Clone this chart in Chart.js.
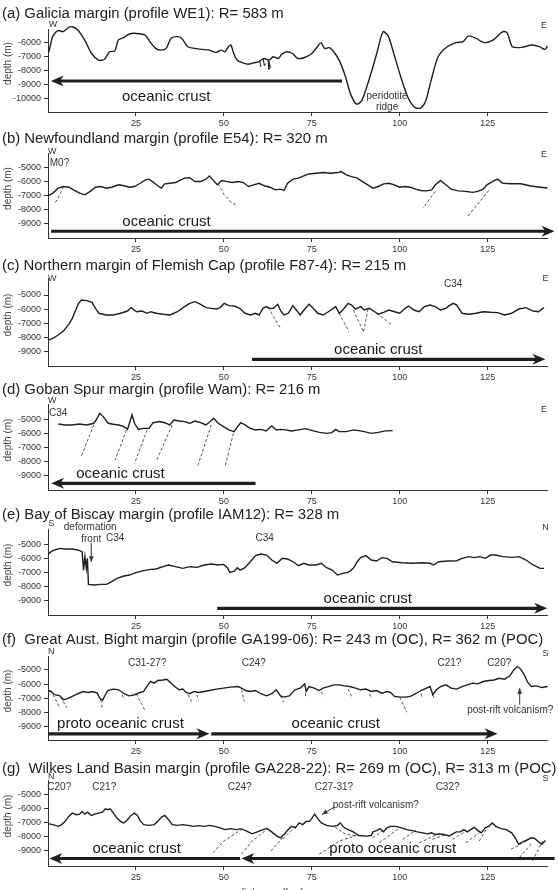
<!DOCTYPE html>
<html>
<head>
<meta charset="utf-8">
<script src="https://cdn.jsdelivr.net/npm/chart.js@4.4.1/dist/chart.umd.min.js"></script>
<style>
  html, body { margin: 0; padding: 0; background: #fff; }
  body { width: 558px; height: 890px; position: relative; overflow: hidden; }
  canvas { position: absolute; left: 0; }
</style>
</head>
<body>
<canvas id="pa"></canvas>
<canvas id="pb"></canvas>
<canvas id="pc"></canvas>
<canvas id="pd"></canvas>
<canvas id="pe"></canvas>
<canvas id="pf"></canvas>
<canvas id="pg"></canvas>
<script>
// ---- data: [distance km, depth m] ----
const kmTicks = [25, 50, 75, 100, 125];
const depthTicksA = [-6000, -7000, -8000, -9000, -10000];
const depthTicks = [-5000, -6000, -7000, -8000, -9000];

const profileA = [[0.3,-6670],[1.3,-5600],[2.8,-5170],[4.3,-5240],[5.9,-4950],[6.9,-4900],[8.4,-5120],[10.4,-5830],[12.4,-6790],[14.4,-7260],[16,-7210],[17.5,-6670],[19,-6600],[20,-5830],[21.5,-5670],[23,-5430],[24.5,-5360],[26,-5400],[27.6,-5480],[29,-5950],[30.6,-6430],[32,-6550],[33.6,-6430],[35,-5710],[36.7,-5600],[38,-5710],[39.7,-6310],[41.7,-6430],[43.7,-6500],[45.8,-6550],[47.8,-6710],[49.3,-6550],[50.3,-6670],[51.3,-6310],[52,-6190],[52.8,-6790],[53.8,-7260],[55.4,-7450],[56.9,-7550],[58.4,-7450],[59.9,-7380],[61.4,-7140],[62.9,-7260],[64,-7020],[65.5,-7140],[66.5,-6830],[68,-6670],[69.5,-6790],[71,-7140],[73,-7070],[75,-6790],[76.6,-6310],[77.6,-6020],[78.6,-6430],[80,-6380],[81.6,-6790],[83,-7380],[84.6,-8450],[86,-9640],[87.7,-10360],[89.2,-10120],[91.2,-8690],[93.2,-7020],[94.7,-5600],[95.4,-5240],[96.8,-5600],[98.3,-6790],[100.3,-8450],[102.3,-9880],[104.3,-10600],[105.9,-10640],[107.4,-10120],[108.9,-8690],[110.9,-7020],[113.5,-6310],[116,-6020],[118,-5950],[119.5,-5550],[121.6,-5710],[124,-6020],[126.6,-5830],[128.6,-5360],[129.6,-5240],[130.6,-5360],[132,-6310],[134.6,-6360],[137.6,-6190],[139.7,-6310],[141.2,-6500],[142,-6260]];
const loopsA = [[[60.2,-7300],[60.5,-7750]],[[61.2,-7200],[61.5,-7650],[61.9,-7500]],[[62.6,-7300],[62.8,-7900],[63.2,-7800],[63,-7450]]];

const profileB = [[0,-7000],[1.4,-6810],[2.9,-6460],[4.4,-6340],[5.9,-6390],[7.5,-6620],[9,-6810],[10.5,-6930],[12,-6690],[13.5,-6390],[15,-6340],[16.6,-6460],[18.1,-6390],[20.1,-6220],[21.6,-6290],[23.1,-6390],[24.6,-6340],[26.2,-6110],[27.7,-5870],[28.7,-5820],[29.7,-5990],[31.2,-6290],[32.2,-6460],[33.2,-6150],[34.7,-6110],[36.3,-6060],[37.3,-5920],[38.8,-5750],[40.3,-5710],[41.8,-5990],[43.4,-5990],[44.9,-5820],[45.9,-5590],[46.9,-5870],[48.1,-6220],[49.4,-5920],[50.9,-5990],[52.4,-6060],[54,-5990],[55.5,-6060],[57,-6340],[58.5,-6220],[60,-6110],[61.5,-6290],[63.1,-6390],[64.6,-6580],[66.1,-6530],[67.1,-6620],[68.1,-6110],[69.7,-5820],[71.2,-5750],[72.7,-5590],[74.2,-5450],[76.2,-5400],[78.3,-5350],[80.3,-5400],[82.3,-5350],[83.3,-5280],[84.8,-5520],[86.3,-5640],[87.9,-5750],[89.4,-5990],[90.9,-6220],[92.4,-6460],[93.9,-6340],[95.4,-6150],[96.9,-6110],[98.5,-6220],[100,-6390],[101.5,-6340],[103,-6390],[104.5,-6530],[106,-6620],[107.6,-6650],[109.1,-6580],[110.1,-6220],[111.6,-5920],[113.1,-6220],[114.6,-6530],[116.7,-6650],[118.7,-6690],[120.7,-6760],[122.2,-6690],[123.7,-6530],[124.8,-6220],[126.3,-5990],[127.8,-5820],[129.3,-6110],[131.8,-6150],[134.4,-6150],[136.9,-6290],[139.9,-6390],[142,-6450]];
const faultsB = [[[4.4,-6340],[3.2,-7000],[1.9,-7560]],[[48.4,-6150],[50,-6900],[52,-7450],[53.9,-7700]],[[110.1,-6690],[106.6,-7870]],[[125.3,-6620],[119.2,-8500]]];

const profileC = [[0,-8180],[1.4,-8060],[2.9,-7820],[4.4,-7540],[5.9,-7070],[6.9,-6650],[7.9,-6060],[8.7,-5590],[9.5,-5350],[11,-5400],[12.5,-5520],[13.5,-5940],[14.5,-6290],[16.5,-6410],[18.6,-6410],[20.6,-6290],[22.6,-6130],[23.6,-5890],[25.2,-6180],[26.7,-6130],[28.2,-6290],[29.2,-6180],[30.7,-6290],[32.7,-6360],[34.7,-6410],[36.8,-6180],[38.8,-5820],[40.3,-5590],[41.8,-5470],[43.4,-5660],[44.9,-5890],[46.4,-5940],[47.9,-5990],[48.9,-5890],[50.1,-5590],[51.4,-5750],[52.9,-5780],[54.5,-5940],[56,-6290],[57.5,-6410],[59,-6290],[60,-6410],[61.1,-5940],[62.1,-5820],[63.1,-5940],[64.1,-5940],[65.3,-5660],[66.3,-6180],[67.1,-6410],[68.3,-6290],[69.6,-5750],[70.6,-6060],[71.7,-6410],[73,-5990],[74.2,-5660],[75.4,-5940],[76.7,-6290],[78.2,-6410],[79.7,-6180],[81.8,-5820],[82.8,-6290],[83.8,-6060],[85.3,-5590],[86.3,-5710],[87.4,-5990],[88.9,-5820],[89.9,-6060],[91.4,-5940],[92.9,-6180],[93.9,-6360],[95.4,-6220],[96.9,-6060],[98.5,-6180],[100,-6290],[101.5,-5940],[102.5,-5780],[104,-6060],[105.5,-6180],[107,-5820],[108.6,-5710],[110.1,-5820],[111.6,-6060],[113.1,-5940],[114.1,-5750],[115.2,-5590],[116.2,-5710],[117.7,-6290],[119.7,-6360],[121.7,-6290],[123.7,-6180],[125.8,-6220],[127.8,-6240],[129.8,-6410],[131.8,-6290],[133.8,-5990],[135.9,-5890],[137.9,-6130],[139.4,-6180],[141,-5890]];
const faultsC = [[[62.6,-5890],[66.1,-7350]],[[82.8,-6290],[85.6,-7590]],[[86.8,-6060],[89.7,-7590]],[[91,-5980],[89.7,-7590]],[[93.4,-6290],[97.9,-7120]]];

const profileD = [[2.9,-5330],[4.9,-5400],[6.9,-5400],[8.9,-5330],[11,-5400],[13,-5280],[13.7,-5050],[14.7,-4580],[15.7,-4810],[17.1,-5280],[18.6,-5350],[20.1,-5400],[21.6,-5520],[22.6,-5710],[23.3,-5160],[23.9,-4690],[24.6,-5280],[25.7,-5710],[27.2,-5640],[28.7,-5640],[29.9,-5240],[31.7,-5160],[33.2,-5240],[34.6,-5400],[35.8,-5050],[37.3,-5120],[38.8,-5160],[40.3,-5280],[41.8,-5120],[43.4,-5240],[44.9,-5400],[46.1,-5160],[47.1,-4930],[48.4,-5280],[49.9,-5520],[51.4,-5750],[52.9,-5870],[53.9,-5520],[54.8,-5240],[56,-5400],[57.5,-5640],[59,-5750],[60.5,-5710],[62,-5820],[63.6,-5470],[64.9,-5750],[66.1,-5710],[67.6,-5750],[69.1,-5820],[71.2,-5750],[73.2,-5660],[75.2,-5800],[77.2,-5920],[79.2,-5990],[80.7,-5940],[81.8,-5710],[82.8,-5870],[84.8,-5870],[86.8,-5750],[88.3,-5800],[89.9,-5870],[91.9,-5990],[93.9,-5920],[95.9,-5820],[98,-5800]];
const faultsD = [[[13,-5400],[9.5,-7590]],[[22.3,-5750],[19.1,-7870]],[[28.2,-5750],[24.6,-8110]],[[35.3,-5400],[30.7,-7990]],[[46.4,-5400],[42.6,-8270]],[[52.7,-5990],[50.4,-8270]]];

const profileE = [[0,-5730],[0.9,-5540],[1.9,-5420],[3.4,-5310],[4.9,-5350],[6.9,-5350],[8.5,-5420],[9.7,-5540],[10.1,-6840],[10.5,-5890],[10.9,-6720],[11.2,-6010],[11.5,-7850],[13,-7890],[15,-7850],[16.6,-7850],[18.1,-7660],[19.6,-7420],[21.6,-7260],[23.1,-7190],[25.2,-7000],[27.2,-6880],[29.2,-6790],[30.7,-6760],[32.7,-6600],[34.2,-6480],[36.3,-6600],[38.3,-6720],[40.3,-6600],[42.4,-6650],[44.4,-6480],[46.4,-6410],[48.4,-6480],[49.9,-6440],[51,-6670],[51.7,-7000],[53,-6910],[53.8,-6670],[54.6,-6840],[56,-6670],[57.5,-6250],[59,-5820],[60.5,-5710],[62.1,-5780],[63.6,-6130],[65.1,-6360],[66.6,-6010],[68.1,-6060],[69.7,-6250],[71.2,-6530],[72.7,-6360],[74.2,-6480],[76.2,-6480],[77.7,-6360],[79.2,-6670],[80.8,-6840],[82.3,-7190],[83.8,-7070],[85.3,-7000],[86.8,-6720],[87.9,-6250],[88.9,-5960],[90.4,-5820],[91.9,-6130],[93.4,-6200],[94.9,-5960],[96.4,-6010],[97.9,-6250],[100.5,-6320],[103.5,-6360],[106.5,-6320],[108.6,-6360],[109.6,-6480],[111.1,-6250],[113.6,-6200],[116.2,-6180],[117.7,-6010],[119.7,-5890],[121.2,-5960],[122.7,-5890],[124.3,-6010],[125.8,-5780],[127.3,-5780],[129.3,-5890],[131.8,-5940],[133.9,-5890],[135.9,-6130],[137.9,-6480],[139.9,-6720],[141,-6720]];

const profileF = [[0,-6460],[0.9,-6530],[1.9,-6760],[3.4,-6840],[4.4,-7120],[5.4,-7050],[6.9,-6880],[8.5,-6690],[10,-6530],[11.5,-6600],[12.7,-6530],[14,-6650],[14.7,-7000],[15.5,-7160],[16.3,-6760],[17,-6460],[18.6,-6360],[20.1,-6410],[21.6,-6690],[23.1,-6840],[24.6,-6760],[26.2,-6600],[27.2,-6530],[28.2,-6130],[29.2,-5820],[30.2,-5940],[31.2,-5750],[32.7,-5710],[33.8,-5660],[34.8,-5890],[36,-6180],[37.3,-6410],[38.3,-6360],[39.3,-6600],[40.3,-6690],[41.6,-6530],[42.9,-6600],[44.4,-6530],[45.9,-6460],[47.9,-6360],[49.9,-6290],[51.9,-6220],[54,-6180],[55,-6290],[56.2,-6460],[57.5,-6530],[59,-6460],[60.5,-6690],[62.1,-6840],[63.6,-6690],[64.9,-6410],[66.1,-6840],[67.1,-6930],[68.6,-6840],[70.2,-6410],[71.7,-6290],[73,-5990],[73.4,-6530],[74.2,-6180],[75.7,-6290],[77,-6460],[78.2,-6290],[79.7,-6180],[81.3,-6060],[82.8,-6060],[84.3,-6130],[85.8,-6180],[87.4,-6290],[88.9,-6410],[90.4,-6360],[91.9,-6530],[93.4,-6460],[94.9,-6650],[96.4,-6530],[97.4,-6600],[98.5,-6880],[100,-6930],[101.5,-6930],[103,-6880],[104.5,-6690],[106,-6460],[107.6,-6290],[108.6,-6180],[109.4,-6760],[110.4,-6410],[111.6,-6180],[113.1,-6060],[114.6,-6290],[116.2,-6360],[117.7,-6180],[119.2,-6060],[120.7,-5940],[122.2,-5990],[123.7,-5820],[125.3,-5750],[126.8,-5710],[128.3,-5590],[129.8,-5660],[131.3,-5420],[132.4,-5000],[133.4,-4760],[134.4,-4950],[135.4,-5350],[136.4,-5890],[137.4,-6180],[138.9,-6130],[140.4,-6250],[142,-6180]];
const faultsF = [[[1.4,-6760],[3.4,-7700]],[[3.6,-6930],[5.4,-7700]],[[15,-7120],[15.5,-7820]],[[21.1,-6760],[21.6,-7120]],[[25.1,-6690],[27.7,-7940]],[[39.8,-6760],[40.8,-7240]],[[42.3,-6760],[42.8,-7120]],[[55,-6410],[55.8,-7240]],[[66.1,-6840],[67.1,-7300]],[[73.2,-6650],[73.2,-7000]],[[77.7,-6530],[78.2,-6880]],[[85.3,-6360],[86.3,-6880]],[[91.4,-6690],[91.9,-7000]],[[100,-6930],[102,-8010]],[[106,-6690],[106.3,-6930]],[[109.4,-6760],[109.8,-7070]]];

const profileG = [[0,-7070],[1.4,-7140],[2.9,-7260],[3.9,-7140],[4.9,-6910],[5.9,-6560],[6.9,-6330],[8,-6440],[9,-6400],[9.7,-6210],[10.5,-6400],[11.3,-6260],[12.3,-6490],[13.3,-6400],[14.3,-6330],[15.5,-6260],[16.3,-6020],[17,-6090],[17.7,-6020],[18.6,-6330],[19.6,-6670],[20.6,-6910],[21.6,-7020],[22.6,-6790],[23.6,-6490],[24.6,-6330],[25.4,-6490],[26.2,-6860],[27.2,-7140],[28.7,-7190],[30.2,-7140],[31.2,-6910],[32.2,-6630],[33.2,-6490],[34.3,-6790],[35.3,-7140],[36.8,-7190],[38.3,-7140],[39.8,-7190],[41.3,-7260],[42.8,-7210],[44.4,-7260],[45.9,-7190],[47.4,-7260],[48.9,-7370],[50.4,-7490],[52,-7420],[53.5,-7490],[55,-7440],[56.5,-7600],[58,-7790],[59.5,-7650],[61.1,-7490],[62.3,-7420],[63.6,-7650],[65.1,-7950],[66.1,-8070],[67.1,-7840],[68.3,-7490],[69.3,-7260],[70.3,-7370],[71.4,-7020],[72.4,-7140],[73.4,-6910],[74.4,-6910],[75.2,-6630],[75.8,-6400],[76.7,-6720],[77.7,-7020],[79.2,-7190],[80.8,-7260],[82.3,-7190],[83.1,-7020],[84.1,-7330],[85.3,-7490],[86.8,-7650],[88.3,-7910],[90.4,-7950],[91.9,-7910],[92.4,-7650],[93.4,-7560],[94.4,-7420],[95.4,-7650],[96.4,-7370],[97.4,-7260],[98.9,-7260],[100.5,-7370],[102,-7490],[103.5,-7560],[105,-7650],[106.5,-7720],[108,-7790],[109,-7720],[110.1,-7840],[111.1,-7790],[112.6,-7840],[114.1,-7950],[115.1,-7790],[116.1,-7650],[117.2,-7650],[118.2,-7490],[119.2,-7650],[120.2,-7490],[121.2,-7330],[122.2,-7560],[123.2,-7720],[124.3,-7370],[125.3,-7260],[126.3,-7020],[127.3,-7260],[128.8,-7420],[130.3,-7490],[131.8,-7720],[132.8,-8070],[133.8,-8530],[134.9,-8350],[135.9,-8260],[137.4,-8070],[138.4,-8120],[139.4,-8350],[140.4,-8530],[141.4,-8260]];
const faultsG = [[[46.9,-9120],[50,-8300],[54.9,-7500]],[[55,-9230],[58,-8300],[61.6,-7600]],[[63.4,-9000],[66.7,-8070]],[[66.8,-8150],[70.5,-7200]],[[77.1,-9230],[82.8,-8300],[87.6,-7900]],[[81.5,-7300],[84.5,-7800],[87.6,-7950]],[[92.3,-8070],[96.1,-7400]],[[94.2,-8420],[99.9,-7370]],[[100.8,-8180],[104.6,-7530]],[[105.5,-8420],[111.2,-7780],[114.1,-7900]],[[109.3,-8180],[113.1,-7840]],[[115,-8180],[118.8,-7610]],[[118.8,-8420],[122.6,-7720]],[[122.6,-8300],[124.5,-7500]],[[131.6,-8880],[135.9,-8300]],[[134,-9460],[137.7,-8420]],[[137.7,-9700],[140.6,-8300]]];

// annotations: [km, depth, text, kind]
const notesA = [[1.4,-4710,'W','dir'],[141,-4780,'E','dir'],[33.6,-9880,'oceanic crust','crust'],[96.4,-9790,'peridotite','tag'],[96.4,-10590,'ridge','tag']];
const notesB = [[1.2,-3820,'W','dir'],[141,-4100,'E','dir'],[0.5,-4690,'M0?','tagL'],[33.7,-8880,'oceanic crust','crust']];
const notesC = [[1.2,-3820,'W','dir'],[141.4,-3820,'E','dir'],[115.2,-4240,'C34','tag'],[93.9,-8880,'oceanic crust','crust']];
const notesD = [[1.2,-3640,'W','dir'],[141,-4340,'E','dir'],[0.3,-4580,'C34','tagL'],[20.6,-8860,'oceanic crust','crust']];
const notesE = [[0.9,-3540,'S','dir'],[141.4,-3850,'N','dir'],[12,-3850,'deformation','tag'],[12.3,-4670,'front','tag'],[19.1,-4600,'C34','tag'],[61.6,-4600,'C34','tag'],[90.9,-8840,'oceanic crust','crust']];
const notesF = [[0.9,-3710,'N','dir'],[141.4,-3820,'S','dir'],[28.2,-4530,'C31-27?','tag'],[58.5,-4530,'C24?','tag'],[114.1,-4530,'C21?','tag'],[128.3,-4530,'C20?','tag'],[131.4,-7870,'post-rift volcanism?','tag'],[20.6,-8810,'proto oceanic crust','crust'],[81.8,-8810,'oceanic crust','crust']];
const notesG = [[0.9,-3770,'N','dir'],[141.4,-3880,'S','dir'],[3.2,-4470,'C20?','tag'],[16,-4470,'C21?','tag'],[54.5,-4470,'C24?','tag'],[81.3,-4470,'C27-31?','tag'],[113.6,-4470,'C32?','tag'],[93.2,-5750,'post-rift volcanism?','tag'],[25.2,-8840,'oceanic crust','crust'],[98,-8840,'proto oceanic crust','crust']];

// crust extent arrows: [from km, to km (head), depth]
const arrowsA = [[83.6, 0.8, -8730]];
const arrowsB = [[0.9, 144, -9520]];
const arrowsC = [[58, 141.4, -9540]];
const arrowsD = [[59, 0.9, -9520]];
const arrowsE = [[48.1, 141.9, -9540]];
const arrowsF = [[0, 45.9, -9540], [46.4, 127.8, -9540]];
const arrowsG = [[54.6, 0.4, -9530], [144, 55, -9530]];
// small pointers: [km1, depth1, km2, depth2 (head)]
const pointersE = [[12.3, -4950, 12.3, -6250]];
const pointersF = [[134.1, -7470, 134.1, -6290]];
const pointersG = [[81.6, -5870, 77.9, -6420]];

const FONT = '"Liberation Sans", Arial, Helvetica, sans-serif';
const INK = '#1e1e1e';
const noteFonts = { dir: 9, tag: 10, tagL: 10, crust: 15 };

const panels = [
  { id: 'pa', title: '(a) Galicia margin (profile WE1): R= 583 m', profile: profileA, faults: [], loops: loopsA, notes: notesA, arrows: arrowsA, pointers: [], yMin: -10920, yMax: -5060, yTicks: depthTicksA, tension: 0.25, top: 0, plotTop: 29, plotBottom: 112 },
  { id: 'pb', title: '(b) Newfoundland margin (profile E54): R= 320 m', profile: profileB, faults: faultsB, loops: [], notes: notesB, arrows: arrowsB, pointers: [], yMin: -10000, yMax: -3960, yTicks: depthTicks, tension: 0, top: 125, plotTop: 153, plotBottom: 238 },
  { id: 'pc', title: '(c) Northern margin of Flemish Cap (profile F87-4): R= 215 m', profile: profileC, faults: faultsC, loops: [], notes: notesC, arrows: arrowsC, pointers: [], yMin: -10010, yMax: -3800, yTicks: depthTicks, tension: 0, top: 252, plotTop: 278, plotBottom: 366 },
  { id: 'pd', title: '(d) Goban Spur margin (profile Wam): R= 216 m', profile: profileD, faults: faultsD, loops: [], notes: notesD, arrows: arrowsD, pointers: [], yMin: -9990, yMax: -3920, yTicks: depthTicks, tension: 0, top: 376, plotTop: 404, plotBottom: 490 },
  { id: 'pe', title: '(e) Bay of Biscay margin (profile IAM12): R= 328 m', profile: profileE, faults: [], loops: [], notes: notesE, arrows: arrowsE, pointers: pointersE, yMin: -10010, yMax: -3940, yTicks: depthTicks, tension: 0, top: 501, plotTop: 529, plotBottom: 615 },
  { id: 'pf', title: '(f)  Great Aust. Bight margin (profile GA199-06): R= 243 m (OC), R= 362 m (POC)', profile: profileF, faults: faultsF, loops: [], notes: notesF, arrows: arrowsF, pointers: pointersF, yMin: -9975, yMax: -4010, yTicks: depthTicks, tension: 0, top: 626, plotTop: 656, plotBottom: 740 },
  { id: 'pg', title: '(g)  Wilkes Land Basin margin (profile GA228-22): R= 269 m (OC), R= 313 m (POC)', profile: profileG, faults: faultsG, loops: [], notes: notesG, arrows: arrowsG, pointers: pointersG, yMin: -10060, yMax: -3990, yTicks: depthTicks, tension: 0, top: 755, plotTop: 780, plotBottom: 866, xTitle: 'distance (km)' }
];

function toPoints(pairs) {
  return pairs.map(p => ({ x: p[0], y: p[1] }));
}
function segmentsToPoints(segs) {
  const out = [];
  segs.forEach(seg => {
    seg.forEach(p => out.push({ x: p[0], y: p[1] }));
    out.push({ x: seg[seg.length - 1][0], y: null });
  });
  return out;
}

function bigArrow(ctx, x0, x1, y) {
  const dir = Math.sign(x1 - x0);
  const L = 13, W = 5.5;
  ctx.lineWidth = 3.2;
  ctx.beginPath();
  ctx.moveTo(x0, y);
  ctx.lineTo(x1 - dir * L * 0.6, y);
  ctx.stroke();
  ctx.beginPath();
  ctx.moveTo(x1, y);
  ctx.lineTo(x1 - dir * L, y - W);
  ctx.lineTo(x1 - dir * L * 0.7, y);
  ctx.lineTo(x1 - dir * L, y + W);
  ctx.closePath();
  ctx.fill();
}
function smallArrow(ctx, x0, y0, x1, y1) {
  const a = Math.atan2(y1 - y0, x1 - x0);
  ctx.lineWidth = 1;
  ctx.beginPath();
  ctx.moveTo(x0, y0);
  ctx.lineTo(x1, y1);
  ctx.stroke();
  ctx.beginPath();
  ctx.moveTo(x1, y1);
  ctx.lineTo(x1 - 6 * Math.cos(a - 0.4), y1 - 6 * Math.sin(a - 0.4));
  ctx.lineTo(x1 - 6 * Math.cos(a + 0.4), y1 - 6 * Math.sin(a + 0.4));
  ctx.closePath();
  ctx.fill();
}

// draws titles, labels and arrows on top of each panel
const notesPlugin = {
  id: 'notes',
  afterDraw(chart, args, opts) {
    const ctx = chart.ctx, xs = chart.scales.x, ys = chart.scales.y, area = chart.chartArea;
    ctx.save();
    ctx.fillStyle = '#222';
    ctx.textBaseline = 'middle';
    ctx.textAlign = 'left';
    ctx.font = '14.9px ' + FONT;
    ctx.fillText(opts.title, 2, 14);

    // y-axis title
    ctx.save();
    ctx.translate(8, (area.top + area.bottom) / 2 - 7);
    ctx.rotate(-Math.PI / 2);
    ctx.textAlign = 'center';
    ctx.fillStyle = '#444';
    ctx.font = '10px ' + FONT;
    ctx.fillText('depth (m)', 0, 0);
    ctx.restore();

    if (opts.xTitle) {
      ctx.textAlign = 'center';
      ctx.textBaseline = 'top';
      ctx.fillStyle = '#444';
      ctx.font = '11px ' + FONT;
      ctx.fillText(opts.xTitle, 271, chart.height - 3);
      ctx.textBaseline = 'middle';
    }

    opts.notes.forEach(n => {
      const kind = n[3];
      ctx.font = noteFonts[kind] + 'px ' + FONT;
      ctx.fillStyle = kind === 'crust' ? '#1a1a1a' : '#333';
      ctx.textAlign = kind === 'tagL' ? 'left' : 'center';
      ctx.fillText(n[2], xs.getPixelForValue(n[0]), ys.getPixelForValue(n[1]));
    });

    ctx.strokeStyle = INK;
    ctx.fillStyle = INK;
    opts.arrows.forEach(a => bigArrow(ctx, xs.getPixelForValue(a[0]), xs.getPixelForValue(a[1]), ys.getPixelForValue(a[2])));
    ctx.strokeStyle = '#333';
    ctx.fillStyle = '#333';
    opts.pointers.forEach(p => smallArrow(ctx, xs.getPixelForValue(p[0]), ys.getPixelForValue(p[1]), xs.getPixelForValue(p[2]), ys.getPixelForValue(p[3])));
    ctx.restore();
  }
};

panels.forEach(p => {
  const canvas = document.getElementById(p.id);
  const height = p.xTitle ? 890 - p.top : Math.round(p.plotBottom - p.top + 22);
  const xAxisH = height - (p.plotBottom - p.top);
  canvas.width = 558;
  canvas.height = height;
  canvas.style.top = p.top + 'px';
  canvas.style.width = '558px';
  canvas.style.height = height + 'px';

  const axisGrid = { drawOnChartArea: false, drawTicks: true, tickLength: 4, color: '#333', lineWidth: 1 };
  const tickFont = { family: FONT, size: 9 };

  new Chart(canvas, {
    type: 'line',
    data: {
      datasets: [
        { data: toPoints(p.profile), borderColor: INK, borderWidth: 1.4, pointRadius: 0, tension: p.tension, clip: false },
        { data: segmentsToPoints(p.faults), borderColor: '#444', borderWidth: 0.9, borderDash: [3, 2], pointRadius: 0, spanGaps: false, clip: false },
        { data: segmentsToPoints(p.loops), borderColor: INK, borderWidth: 1, pointRadius: 0, spanGaps: false, clip: false }
      ]
    },
    options: {
      responsive: false,
      animation: false,
      devicePixelRatio: 1,
      layout: { padding: { top: p.plotTop - p.top, right: 10.5, bottom: 0, left: 0 } },
      plugins: {
        legend: { display: false },
        tooltip: { enabled: false },
        notes: { title: p.title, notes: p.notes, arrows: p.arrows, pointers: p.pointers, xTitle: p.xTitle }
      },
      scales: {
        x: {
          type: 'linear', min: 0, max: 142,
          afterBuildTicks: s => { s.ticks = kmTicks.map(v => ({ value: v })); },
          afterFit: s => { s.height = xAxisH; },
          grid: axisGrid,
          border: { display: true, color: '#333', width: 1 },
          ticks: { font: tickFont, color: '#333', padding: 2, maxRotation: 0, autoSkip: false, callback: v => String(v) }
        },
        y: {
          type: 'linear', min: p.yMin, max: p.yMax,
          afterBuildTicks: s => { s.ticks = p.yTicks.map(v => ({ value: v })); },
          afterFit: s => { s.width = 48; },
          grid: axisGrid,
          border: { display: true, color: '#333', width: 1 },
          ticks: { font: tickFont, color: '#333', padding: 3, autoSkip: false, callback: v => String(v) }
        }
      }
    },
    plugins: [notesPlugin]
  });
});
</script>
</body>
</html>
